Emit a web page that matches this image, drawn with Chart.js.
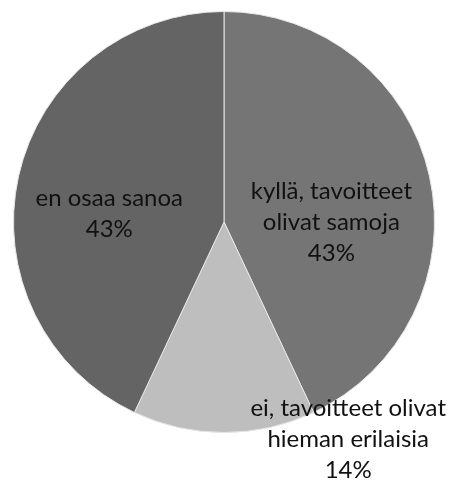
<!DOCTYPE html>
<html>
<head>
<meta charset="utf-8">
<script src="https://cdn.jsdelivr.net/npm/chart.js@4.4.1/dist/chart.umd.min.js"></script>
<style>
  html, body { margin: 0; padding: 0; background: #fff; }
  #wrap { width: 454px; height: 482px; position: relative; }
</style>
</head>
<body>
<div id="wrap"><canvas id="myChart"></canvas></div>
<script>
const categories = ["kyllä, tavoitteet olivat samoja", "ei, tavoitteet olivat hieman erilaisia", "en osaa sanoa"];
const values = [43, 14, 43];
const labelLines = [
  ["kyllä, tavoitteet", "olivat samoja", "43%"],
  ["ei, tavoitteet olivat", "hieman erilaisia", "14%"],
  ["en osaa sanoa", "43%"],
];
const sliceColors = ["#757575", "#bebebe", "#646464"];

// label anchors as offsets from the pie centre, in units of the radius
const labelAnchors = [
  [0.51, 0.0],
  [0.59, 1.03],
  [-0.545, -0.04],
];

const pieLabels = {
  id: "pieLabels",
  afterDatasetsDraw(chart) {
    const ctx = chart.ctx;
    const arcs = chart.getDatasetMeta(0).data;
    ctx.save();
    ctx.font = "24px Lato";
    ctx.fillStyle = "#111111";
    ctx.textAlign = "center";
    ctx.textBaseline = "middle";
    const lineH = 31;
    arcs.forEach((arc, i) => {
      const r = arc.outerRadius;
      const cx = arc.x + labelAnchors[i][0] * r;
      const cy = arc.y + labelAnchors[i][1] * r;
      const lines = labelLines[i];
      const top = cy - ((lines.length - 1) * lineH) / 2;
      lines.forEach((t, k) => ctx.fillText(t, cx, top + k * lineH));
    });
    ctx.restore();
  },
};

const ctx = document.getElementById("myChart");
new Chart(ctx, {
  type: "pie",
  data: {
    labels: categories,
    datasets: [
      {
        data: values,
        backgroundColor: sliceColors,
        borderColor: "#e6e6e6",
        borderWidth: 1,
        hoverOffset: 0,
      },
    ],
  },
  options: {
    responsive: true,
    maintainAspectRatio: false,
    animation: false,
    layout: { padding: { left: 13, right: 19, top: 11, bottom: 49 } },
    plugins: {
      legend: { display: false },
      tooltip: { enabled: false },
    },
  },
  plugins: [pieLabels],
});
</script>
</body>
</html>
